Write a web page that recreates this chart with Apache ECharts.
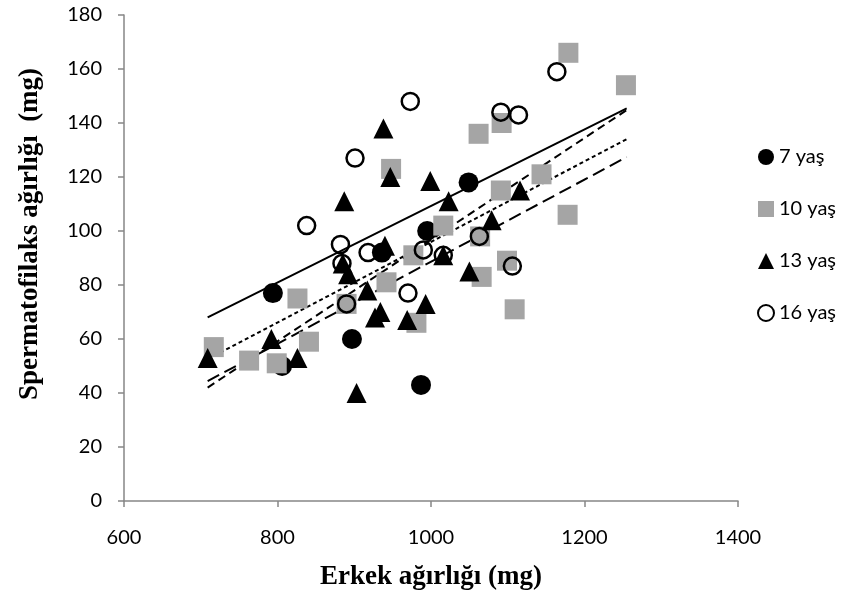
<!DOCTYPE html>
<html>
<head>
<meta charset="utf-8">
<script src="https://cdn.jsdelivr.net/npm/echarts@6/dist/echarts.min.js"></script>
<style>html,body{margin:0;padding:0;background:#fff}#c{width:857px;height:599px}</style>
</head>
<body>
<div id="c"></div>
<script>
// Data (x = male weight mg, y = spermatophylax weight mg)
const age7 = [[794,77],[897,60],[806,50],[987,43],[1049,118],[995,100],[936,92]];
const age10 = [[717,57],[763,52],[799,51],[826,75],[841,59],[890,73],[942,81],[948,123],[977,91],[981,66],
  [1016,102],[1064,98],[1066,83],[1099,89],[1109,71],[1091,115],[1144,121],[1178,106],[1179,166],[1254,154],[1062,136],[1092,140]];
const age13 = [[709,53],[792,60],[826,53],[903,40],[917,78],[927,68],[934,70],[969,67],[993,73],[1050,85],[1016,91],
  [999,118.5],[1023,111],[1116,115],[1079,104],[947,120],[887,111],[940,94.5],[885,88],[892,84],[938,138]];
const age16 = [[973,148],[901,127],[838,102],[882,95],[918,92],[1164,159],[1091,144],[1114,143],[1063,98],[990,93],
  [1016,91],[1106,87],[970,77],[890,73],[884,88]];
// trend lines (start / end points)
const trendSolid = [[709,68],[1255,145.4]];
const trendDash = [[709,42],[1255,144.8]];
const trendFine = [[709,52.5],[1255,134]];
const trendLong = [[709,44.4],[1255,127.4]];
const seriesNames = ['7 yaş','10 yaş','13 yaş','16 yaş'];
const xTicks = [600,1400,200];
const yTicks = [0,180,20];
const xTitle = 'Erkek ağırlığı (mg)';
const yTitle = 'Spermatofilaks ağırlığı  (mg)';

const chart = echarts.init(document.getElementById('c'));
const numFont = 'Lato';
const lineStyleBase = {color:'#000', width:2};
function trend(d, type){
  return {type:'line', data:d, symbol:'none', silent:true, z:1,
    lineStyle:Object.assign({}, lineStyleBase, {type:type}), legendHoverLink:false};
}
chart.setOption({
  animation:false,
  backgroundColor:'#fff',
  grid:{left:124, right:119, top:15, bottom:98},
  xAxis:{type:'value', min:xTicks[0], max:xTicks[1], interval:xTicks[2],
    splitLine:{show:false},
    axisLine:{lineStyle:{color:'#868686', width:1.5}},
    axisTick:{show:true, length:6, lineStyle:{color:'#868686', width:1.5}},
    axisLabel:{color:'#000', fontFamily:numFont, fontSize:20, margin:27, formatter:function(v){return String(v);}},
    name:xTitle, nameLocation:'middle', nameGap:63,
    nameTextStyle:{fontFamily:'Liberation Serif', fontWeight:'bold', fontSize:27, color:'#000'}
  },
  yAxis:{type:'value', min:yTicks[0], max:yTicks[1], interval:yTicks[2],
    splitLine:{show:false},
    axisLine:{show:true, lineStyle:{color:'#868686', width:1.5}},
    axisTick:{show:true, length:6, lineStyle:{color:'#868686', width:1.5}},
    axisLabel:{color:'#000', fontFamily:numFont, fontSize:20, margin:22, formatter:function(v){return String(v);}}
  },
  graphic:[{type:'text', x:30, y:234, rotation:Math.PI/2,
    style:{text:yTitle, font:'bold 27px "Liberation Serif"', fill:'#000', align:'center', verticalAlign:'middle'}}],
  legend:{orient:'vertical', left:752, top:142, itemGap:32, itemWidth:16, itemHeight:16,
    data:seriesNames,
    textStyle:{fontFamily:numFont, fontSize:20, color:'#000', padding:[0,0,0,0]}},
  series:[
    trend(trendSolid,'solid'), trend(trendDash,[8,5]), trend(trendFine,[4,3]), trend(trendLong,[13,6]),
    {name:seriesNames[0], type:'scatter', data:age7, symbol:'circle', symbolSize:20, z:3,
      itemStyle:{color:'#000', opacity:1}},
    {name:seriesNames[1], type:'scatter', data:age10, symbol:'rect', symbolSize:20, z:4,
      itemStyle:{color:'#a5a5a5', opacity:1}},
    {name:seriesNames[2], type:'scatter', data:age13, symbol:'triangle', symbolSize:20, z:5,
      itemStyle:{color:'#000', opacity:1}},
    {name:seriesNames[3], type:'scatter', data:age16, symbol:'circle', symbolSize:17, z:6,
      itemStyle:{color:'rgba(0,0,0,0)', borderColor:'#000', borderWidth:2.5, opacity:1}}
  ]
});
</script>
</body>
</html>
